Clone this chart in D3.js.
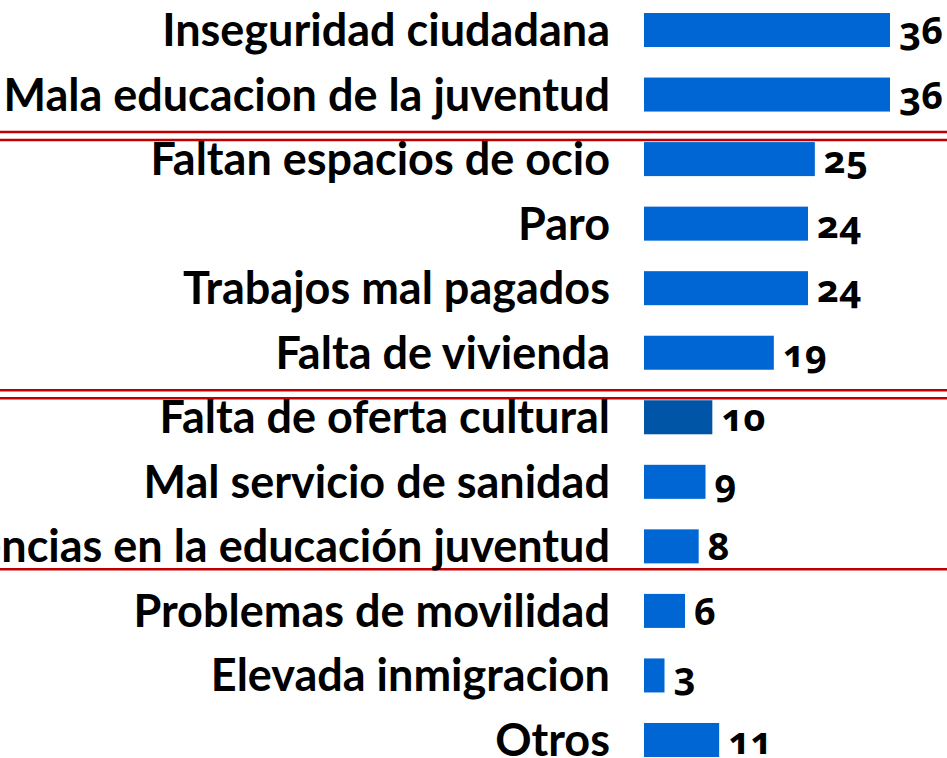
<!DOCTYPE html>
<html>
<head>
<meta charset="utf-8">
<script src="https://cdn.jsdelivr.net/npm/d3@7"></script>
<style>
  body { margin: 0; background: #fff; overflow: hidden; }
  .label { font-family: Lato, "Open Sans", sans-serif; font-weight: 700; fill: #000; }
  .value { font-family: "Noto Sans", Lato, sans-serif; font-weight: 700; fill: #000;
           font-variant-numeric: oldstyle-nums; font-feature-settings: "onum" 1; }
</style>
</head>
<body>
<svg id="chart" width="947" height="758"></svg>
<script>
// data
var categories = [
  "Inseguridad ciudadana",
  "Mala educacion de la juventud",
  "Faltan espacios de ocio",
  "Paro",
  "Trabajos mal pagados",
  "Falta de vivienda",
  "Falta de oferta cultural",
  "Mal servicio de sanidad",
  "Deficiencias en la educación juventud",
  "Problemas de movilidad",
  "Elevada inmigracion",
  "Otros"
];
var values = [36, 36, 25, 24, 24, 19, 10, 9, 8, 6, 3, 11];
// the one bar drawn a shade darker
var darkBars = ["Falta de oferta cultural"];
// red separators: drawn after these rows
var separatorsDouble = ["Mala educacion de la juventud", "Falta de vivienda"];
var separatorsSingle = ["Deficiencias en la educación juventud"];

var data = categories.map(function (c, i) { return { name: c, value: values[i] }; });

var svg = d3.select("#chart");
var width = 947;

var y = d3.scaleBand()
  .domain(categories)
  .range([13, 757])
  .paddingInner(0.473)
  .paddingOuter(0);

var x = d3.scaleLinear()
  .domain([0, 36])
  .range([644, 890]);

// separators
separatorsDouble.forEach(function (name) {
  var next = categories[categories.indexOf(name) + 1];
  [y(next) - 10, y(next) - 2].forEach(function (ly) {
    svg.append("line")
      .attr("x1", 0).attr("x2", width)
      .attr("y1", ly).attr("y2", ly)
      .attr("stroke", "#c00000")
      .attr("stroke-width", 2.5);
  });
});
separatorsSingle.forEach(function (name) {
  var ly = y(name) + y.bandwidth() + 6;
  svg.append("line")
    .attr("x1", 0).attr("x2", width)
    .attr("y1", ly).attr("y2", ly)
    .attr("stroke", "#c00000")
    .attr("stroke-width", 2.5);
});

// bars
svg.selectAll("rect.bar")
  .data(data)
  .enter()
  .append("rect")
  .attr("class", "bar")
  .attr("x", x(0))
  .attr("y", function (d) { return y(d.name); })
  .attr("width", function (d) { return x(d.value) - x(0); })
  .attr("height", y.bandwidth())
  .attr("fill", function (d) {
    return darkBars.indexOf(d.name) >= 0 ? "#0055a6" : "#0066d3";
  });

// category labels
svg.selectAll("text.label")
  .data(data)
  .enter()
  .append("text")
  .attr("class", "label")
  .attr("x", 610)
  .attr("y", function (d) { return y(d.name) + y.bandwidth() / 2 + 16; })
  .attr("text-anchor", "end")
  .style("font-size", "45px")
  .text(function (d) { return d.name; });

// value labels
svg.selectAll("text.value")
  .data(data)
  .enter()
  .append("text")
  .attr("class", "value")
  .attr("x", function (d) { return x(d.value) + 9; })
  .attr("y", function (d) { return y(d.name) + y.bandwidth() - 3; })
  .style("font-size", "38px")
  .text(function (d) { return d.value; });
</script>
</body>
</html>
